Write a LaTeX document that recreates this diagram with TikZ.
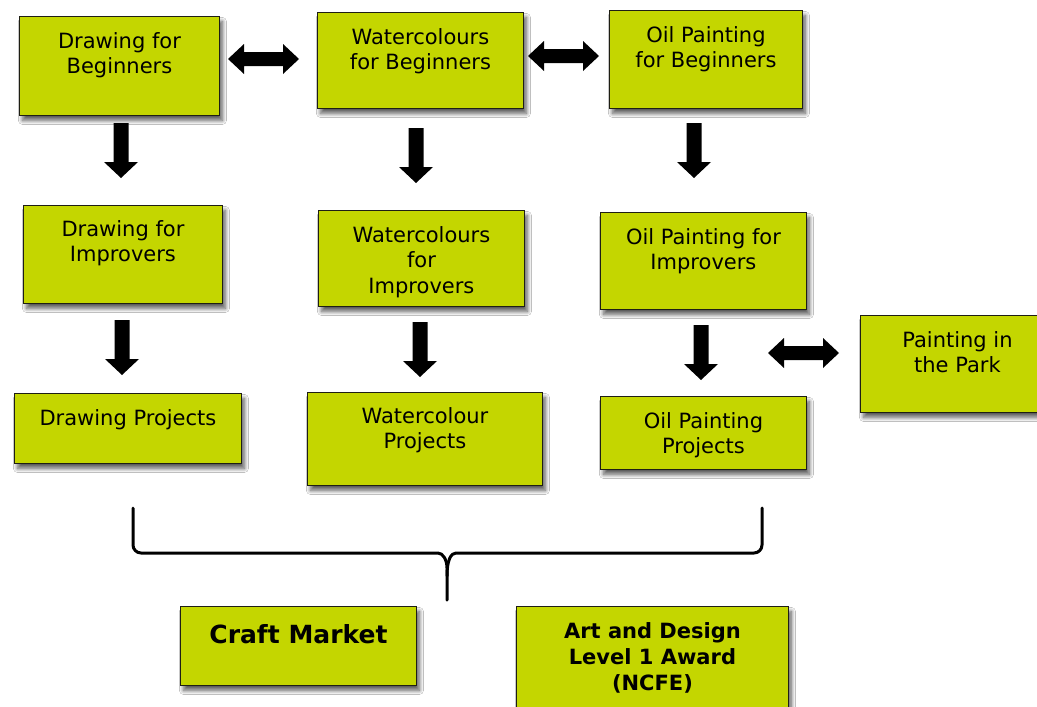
\documentclass[tikz,border=0pt]{standalone}
\usepackage{fontspec}
\setmainfont{DejaVu Sans}
\usetikzlibrary{shadows.blur}
\definecolor{limefill}{RGB}{196,214,0}
\definecolor{boxedge}{RGB}{30,30,20}
\tikzset{
  box/.style={draw=boxedge, line width=0.9pt, fill=limefill, inner sep=0pt, anchor=north west,
    blur shadow={shadow xshift=3pt, shadow yshift=-5pt, shadow blur radius=4pt, shadow blur steps=10, shadow opacity=65},
    font=\fontsize{21}{25.5}\selectfont},
  boldbox/.style={box, font=\fontsize{21}{26}\selectfont\bfseries},
  bigbox/.style={box, font=\fontsize{25}{30}\selectfont\bfseries},
  dnarr/.pic={\fill[black] (-7.5,0) -- (7.5,0) -- (7.5,39) -- (17,39) -- (0,55) -- (-17,39) -- (-7.5,39) -- cycle;},
  lrarr/.pic={\fill[black] (0,0) -- (16,-15) -- (16,-7) -- (55,-7) -- (55,-15) -- (71,0) -- (55,15) -- (55,7) -- (16,7) -- (16,15) -- cycle;},
  brace/.style={line width=3pt, line cap=round, line join=round, rounded corners=8pt}
}
\newcommand\bxtext[4]{\parbox[c][#2][t]{#1}{\centering\rule{0pt}{#3}#4\par}}
\begin{document}
\begin{tikzpicture}[x=1pt,y=-1pt]
\useasboundingbox (0,0) rectangle (1037,707);
\clip (0,0) rectangle (1037,707);
\fill[white] (0,0) rectangle (1037,707);
% boxes
\node[box] (b1) at (19,16) {\bxtext{200pt}{99pt}{32pt}{Drawing for\\Beginners}};
\node[box] (b2) at (317,12) {\bxtext{206pt}{96pt}{32pt}{Watercolours\\for Beginners}};
\node[box] (b3) at (609,10) {\bxtext{193pt}{98pt}{32pt}{Oil Painting\\for Beginners}};
\node[box] (b4) at (23,205) {\bxtext{199pt}{98pt}{31pt}{Drawing for\\Improvers}};
\node[box] (b5) at (318,210) {\bxtext{206pt}{96pt}{32pt}{Watercolours\\for\\Improvers}};
\node[box] (b6) at (600,212) {\bxtext{206pt}{97pt}{32pt}{Oil Painting for\\Improvers}};
\node[box] (b7) at (14,393) {\bxtext{227pt}{70pt}{32pt}{Drawing Projects}};
\node[box] (b8) at (307,392) {\bxtext{235pt}{93pt}{31pt}{Watercolour\\Projects}};
\node[box] (b9) at (600,396) {\bxtext{206pt}{73pt}{32pt}{Oil Painting\\Projects}};
\node[box] (b10) at (860,315) {\bxtext{194pt}{97pt}{32pt}{Painting in\\the Park}};
\node[bigbox] (b11) at (180,606) {\bxtext{236pt}{79pt}{37pt}{Craft Market}};
\node[boldbox] (b12) at (516,606) {\bxtext{272pt}{120pt}{32pt}{Art and Design\\Level 1 Award\\(NCFE)}};
% block arrows
\pic (d1) at (121,123) {dnarr};
\pic (d2) at (416,128) {dnarr};
\pic (d3) at (694,123) {dnarr};
\pic (d4) at (122,320) {dnarr};
\pic (d5) at (420,322) {dnarr};
\pic (d6) at (701,325) {dnarr};
\pic (h1) at (228,59) {lrarr};
\pic (h2) at (528,56) {lrarr};
\pic (h3) at (768,353) {lrarr};
% brace
\coordinate (brL) at (133,508);
\coordinate (brR) at (762,508);
\coordinate (brT) at (447,600);
\draw[brace] (brL) -- (133,553) -- (430,553) .. controls (443,553) and (447,560) .. (447,576) -- (brT);
\draw[brace] (brR) -- (762,553) -- (464,553) .. controls (451,553) and (447,560) .. (447,576);
\end{tikzpicture}
\end{document}
